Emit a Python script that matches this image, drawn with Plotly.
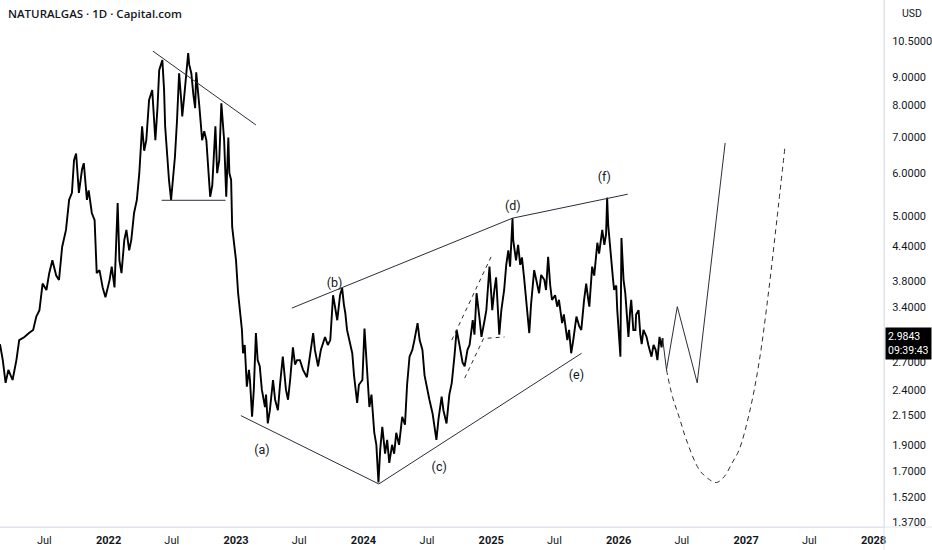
import plotly.graph_objects as go

# NATURALGAS daily (approx.)
price_dates = [
    "2021-02-24", "2021-03-04", "2021-03-12", "2021-03-20", "2021-04-01", "2021-04-12", "2021-04-20",
    "2021-05-05", "2021-05-18", "2021-05-30", "2021-06-08", "2021-06-17", "2021-06-26", "2021-07-07",
    "2021-07-15", "2021-07-24", "2021-08-04", "2021-08-12", "2021-08-21", "2021-09-01", "2021-09-10",
    "2021-09-18", "2021-09-24", "2021-09-30", "2021-10-08", "2021-10-17", "2021-10-22", "2021-10-31",
    "2021-11-05", "2021-11-14", "2021-11-22", "2021-11-28", "2021-12-06", "2021-12-15", "2021-12-23",
    "2022-01-04", "2022-01-10", "2022-01-18", "2022-01-27", "2022-02-01", "2022-02-07", "2022-02-15",
    "2022-02-21", "2022-03-01", "2022-03-07", "2022-03-15", "2022-03-23", "2022-03-30", "2022-04-07",
    "2022-04-13", "2022-04-19", "2022-04-27", "2022-05-06", "2022-05-15", "2022-05-21", "2022-05-26",
    "2022-06-04", "2022-06-09", "2022-06-12", "2022-06-18", "2022-06-23", "2022-06-29", "2022-07-05",
    "2022-07-10", "2022-07-16", "2022-07-22", "2022-07-28", "2022-07-31", "2022-08-06", "2022-08-11",
    "2022-08-17", "2022-08-20", "2022-08-26", "2022-09-01", "2022-09-06", "2022-09-09", "2022-09-15",
    "2022-09-18", "2022-09-26", "2022-10-02", "2022-10-08", "2022-10-14", "2022-10-19", "2022-10-25",
    "2022-10-28", "2022-11-03", "2022-11-08", "2022-11-14", "2022-11-20", "2022-11-25", "2022-11-28",
    "2022-12-04", "2022-12-10", "2022-12-13", "2022-12-18", "2022-12-21", "2022-12-27",
    "2023-01-01", "2023-01-07", "2023-01-12", "2023-01-18", "2023-01-21", "2023-01-26", "2023-02-01",
    "2023-02-07", "2023-02-10", "2023-02-16", "2023-02-21", "2023-02-27", "2023-03-04", "2023-03-10",
    "2023-03-16", "2023-03-25", "2023-03-28", "2023-04-02", "2023-04-08", "2023-04-17", "2023-04-23",
    "2023-05-01", "2023-05-07", "2023-05-15", "2023-05-24", "2023-05-30", "2023-06-05", "2023-06-13",
    "2023-06-19", "2023-06-25", "2023-07-03", "2023-07-12", "2023-07-23", "2023-07-31", "2023-08-10",
    "2023-08-15", "2023-08-24", "2023-09-01", "2023-09-13", "2023-09-21", "2023-09-28", "2023-10-06",
    "2023-10-12", "2023-10-18", "2023-10-26", "2023-11-01", "2023-11-06", "2023-11-10", "2023-11-15",
    "2023-11-24", "2023-11-30", "2023-12-05", "2023-12-14", "2023-12-19", "2023-12-29",
    "2024-01-04", "2024-01-10", "2024-01-18", "2024-01-24", "2024-02-01", "2024-02-07", "2024-02-13",
    "2024-02-18", "2024-02-24", "2024-03-03", "2024-03-09", "2024-03-15", "2024-03-23", "2024-03-29",
    "2024-04-04", "2024-04-12", "2024-04-21", "2024-04-29", "2024-05-05", "2024-05-12", "2024-05-20",
    "2024-05-26", "2024-06-04", "2024-06-10", "2024-06-18", "2024-06-24", "2024-06-30", "2024-07-08",
    "2024-07-17", "2024-07-22", "2024-07-28", "2024-08-03", "2024-08-12", "2024-08-17", "2024-08-26",
    "2024-09-03", "2024-09-10", "2024-09-18", "2024-09-24", "2024-10-02", "2024-10-11", "2024-10-17",
    "2024-10-25", "2024-10-31", "2024-11-09", "2024-11-14", "2024-11-20", "2024-11-29", "2024-12-04",
    "2024-12-13", "2024-12-18", "2024-12-27",
    "2025-01-04", "2025-01-10", "2025-01-15", "2025-01-24", "2025-01-30", "2025-02-07", "2025-02-13",
    "2025-02-19", "2025-02-24", "2025-03-03", "2025-03-05", "2025-03-13", "2025-03-19", "2025-03-25",
    "2025-03-30", "2025-04-05", "2025-04-14", "2025-04-20", "2025-04-25", "2025-05-04", "2025-05-10",
    "2025-05-18", "2025-05-24", "2025-06-02", "2025-06-07", "2025-06-13", "2025-06-19", "2025-06-24",
    "2025-07-03", "2025-07-09", "2025-07-14", "2025-07-23", "2025-07-28", "2025-08-07", "2025-08-12",
    "2025-08-18", "2025-08-24", "2025-09-02", "2025-09-10", "2025-09-16", "2025-09-24", "2025-09-30",
    "2025-10-06", "2025-10-09", "2025-10-17", "2025-10-23", "2025-11-01", "2025-11-06", "2025-11-15",
    "2025-11-21", "2025-11-26", "2025-11-29", "2025-12-02", "2025-12-11", "2025-12-16", "2025-12-19",
    "2025-12-25", "2025-12-28",
    "2026-01-01", "2026-01-06", "2026-01-09", "2026-01-15", "2026-01-20", "2026-01-29", "2026-02-03",
    "2026-02-06", "2026-02-12", "2026-02-18", "2026-02-20", "2026-02-27", "2026-03-04", "2026-03-08",
    "2026-03-13", "2026-03-22", "2026-03-27", "2026-04-05", "2026-04-11", "2026-04-17", "2026-04-22",
    "2026-04-28", "2026-05-04", "2026-05-07",
]
price_values = [
    2.91, 2.72, 2.47, 2.61, 2.50, 2.72, 2.96,
    3.00, 3.05, 3.09, 3.27, 3.36, 3.76, 3.66,
    3.93, 4.15, 3.89, 3.82, 4.39, 4.72, 5.36,
    5.52, 6.34, 6.52, 5.52, 6.10, 6.26, 5.36,
    5.58, 5.07, 4.92, 3.93, 3.98, 3.70, 3.55,
    3.82, 4.04, 3.70, 5.29, 4.15, 3.93, 4.52,
    4.72, 4.33, 4.52, 5.07, 5.36, 6.00, 7.32,
    6.60, 6.90, 8.18, 8.53, 6.90, 7.90, 9.28,
    9.69, 8.53, 7.32, 6.42, 5.83, 5.36, 5.95,
    6.42, 7.50, 9.16, 8.18, 7.63, 8.35, 9.01,
    9.98, 9.50, 9.16, 8.35, 7.90, 9.20, 8.18,
    7.96, 6.90, 7.17, 6.90, 6.06, 5.43, 5.70,
    6.34, 7.32, 6.00, 6.34, 8.07, 7.17, 6.90,
    5.43, 6.98, 6.00, 5.83, 4.78, 4.39,
    4.15, 3.61, 3.32, 3.09, 2.80, 2.90, 2.43,
    2.61, 2.50, 2.14, 2.40, 3.05, 2.72, 2.65,
    2.40, 2.23, 2.35, 2.08, 2.20, 2.50, 2.30,
    2.20, 2.45, 2.76, 2.40, 2.30, 2.50, 2.87,
    2.67, 2.72, 2.72, 2.61, 2.53, 2.78, 3.05,
    2.84, 2.65, 2.84, 3.00, 2.90, 2.96, 3.58,
    3.36, 3.22, 3.58, 3.69, 3.44, 3.32, 3.09,
    2.90, 2.80, 2.55, 2.27, 2.45, 2.50,
    3.11, 2.67, 2.23, 2.35, 2.00, 1.90, 1.62,
    1.86, 2.05, 1.83, 1.94, 1.76, 1.90, 1.83,
    2.00, 1.90, 2.14, 2.07, 2.45, 2.76, 2.84,
    2.96, 3.18, 2.96, 2.84, 2.55, 2.43, 2.30,
    2.17, 2.07, 1.94, 2.12, 2.33, 2.20, 2.08,
    2.35, 2.47, 2.78, 3.09, 2.90, 2.69, 2.65,
    2.84, 2.90, 3.22, 3.03, 3.61, 3.22, 3.00,
    3.22, 3.36, 4.04,
    3.36, 3.66, 3.86, 3.03, 3.36, 3.66, 4.07,
    4.33, 4.04, 4.96, 4.52, 4.15, 4.43, 4.07,
    4.20, 3.86, 3.36, 3.05, 3.44, 3.98, 3.82,
    3.61, 3.90, 3.82, 3.66, 4.21, 3.73, 3.51,
    3.58, 3.41, 3.51, 3.18, 3.30, 2.96, 3.09,
    2.80, 2.96, 3.27, 3.14, 3.09, 3.51, 3.76,
    3.51, 3.41, 4.04, 3.89, 4.47, 4.27, 4.72,
    4.43, 4.64, 5.41, 4.82, 4.04, 3.82, 3.66,
    3.73, 3.36,
    3.09, 2.76, 4.56, 3.82, 3.61, 3.00, 3.36,
    3.51, 3.09, 3.09, 3.30, 3.36, 3.03, 2.91,
    3.09, 3.00, 2.90, 2.76, 2.90, 2.84, 2.72,
    3.00, 2.87, 2.9843,
]
last_price = 2.9843
countdown = "09:39:43"

# drawn lines
top_line_x = ["2022-05-08", "2023-02-27"]
top_line_y = [10.06, 7.36]
neck_x = ["2022-06-02", "2022-12-02"]
neck_y = [5.35, 5.35]
upper_x = ["2023-06-10", "2025-03-03", "2026-01-27"]
upper_y = [3.39, 4.96, 5.49]
lower_x = ["2023-01-15", "2024-02-14", "2025-09-17"]
lower_y = [2.15, 1.61, 2.80]
chan_up_x = ["2024-09-10", "2025-01-02"]
chan_up_y = [2.96, 4.23]
chan_lo_x = ["2024-10-17", "2024-12-10", "2025-02-08"]
chan_lo_y = [2.52, 2.98, 3.00]
path_a_x = ["2026-05-07", "2026-05-18", "2026-06-18", "2026-08-14", "2026-11-02"]
path_a_y = [2.98, 2.61, 3.41, 2.47, 6.82]
path_b_x = ["2026-05-18", "2026-06-04", "2026-06-24", "2026-07-14", "2026-08-20", "2026-09-18",
            "2026-10-08", "2026-10-30", "2026-11-22", "2026-12-12", "2027-01-10", "2027-02-07",
            "2027-03-07", "2027-03-30", "2027-04-22"]
path_b_y = [2.61, 2.33, 2.13, 1.94, 1.71, 1.64, 1.62, 1.66, 1.76, 1.86, 2.17, 2.69, 3.66, 4.92, 6.68]

wave_labels = ["(a)", "(b)", "(c)", "(d)", "(e)", "(f)"]
wave_x = ["2023-03-16", "2023-10-10", "2024-08-05", "2025-03-04", "2025-09-02", "2025-11-21"]
wave_y = [1.85, 3.76, 1.72, 5.20, 2.54, 5.88]

y_ticks = [10.5, 9, 8, 7, 6, 5, 4.4, 3.8, 3.4, 2.7, 2.4, 2.15, 1.9, 1.7, 1.52, 1.37]
x_ticks = ["2021-07-01", "2022-01-01", "2022-07-01", "2023-01-01", "2023-07-01", "2024-01-01",
           "2024-07-01", "2025-01-01", "2025-07-01", "2026-01-01", "2026-07-01", "2027-01-01",
           "2027-07-01", "2028-01-01"]
x_text = ["Jul", "<b>2022</b>", "Jul", "<b>2023</b>", "Jul", "<b>2024</b>", "Jul", "<b>2025</b>",
          "Jul", "<b>2026</b>", "Jul", "<b>2027</b>", "Jul", "<b>2028</b>"]

ink = "#131722"
pen = "#2a2e39"

fig = go.Figure()
fig.add_trace(go.Scatter(x=price_dates, y=price_values, mode="lines",
                         line=dict(color="black", width=1.9)))
for xs, ys in [(top_line_x, top_line_y), (neck_x, neck_y), (upper_x, upper_y),
               (lower_x, lower_y), (path_a_x, path_a_y)]:
    fig.add_trace(go.Scatter(x=xs, y=ys, mode="lines", line=dict(color=pen, width=1)))
for xs, ys in [(chan_up_x, chan_up_y), (chan_lo_x, chan_lo_y)]:
    fig.add_trace(go.Scatter(x=xs, y=ys, mode="lines",
                             line=dict(color=pen, width=1, dash="4px,4px")))
fig.add_trace(go.Scatter(x=path_b_x, y=path_b_y, mode="lines",
                         line=dict(color=pen, width=1, dash="5px,4px", shape="spline")))
fig.add_trace(go.Scatter(x=wave_x, y=wave_y, mode="text", text=wave_labels,
                         textfont=dict(size=12.5, color=ink, family="Roboto")))

fig.update_layout(
    width=932, height=550,
    margin=dict(l=0, r=48, t=0, b=23),
    paper_bgcolor="white", plot_bgcolor="white",
    showlegend=False,
    font=dict(family="Roboto", size=11, color=ink),
    xaxis=dict(type="date", range=["2021-02-24", "2028-01-31"], showgrid=False, zeroline=False,
               tickvals=x_ticks, ticktext=x_text, ticks="outside", ticklen=3,
               tickcolor="rgba(0,0,0,0)", showline=True, linecolor="#e0e3eb",
               tickfont=dict(size=11, color=ink)),
    yaxis=dict(type="log", side="right", range=[0.1277, 1.0966], showgrid=False, zeroline=False,
               tickvals=y_ticks, tickformat=".4f", ticks="outside", ticklen=5,
               tickcolor="rgba(0,0,0,0)", showline=True, linecolor="#e0e3eb",
               tickfont=dict(size=11, color=ink)),
)

fig.add_shape(type="line", xref="paper", yref="paper", x0=1, x1=1, y0=-0.05, y1=1,
              line=dict(color="#e0e3eb", width=1))
fig.add_shape(type="line", xref="paper", yref="paper", x0=0, x1=1.06, y0=0, y1=0,
              line=dict(color="#e0e3eb", width=1))

fig.add_annotation(xref="paper", yref="paper", x=0.007, y=0.975, xanchor="left", yanchor="middle",
                   text="NATURALGAS · 1D · Capital.com", showarrow=False,
                   font=dict(size=11.5, color=ink, family="Open Sans", weight=600))
fig.add_annotation(xref="paper", yref="paper", x=1.018, y=0.975, xanchor="left", yanchor="middle",
                   text="USD", showarrow=False, font=dict(size=10.5, color=ink))
fig.add_annotation(xref="paper", yref="y", x=1.001, y=0.47488, xanchor="left", yanchor="middle",
                   yshift=-5, text=f"{last_price:.4f}<br>{countdown}", showarrow=False,
                   align="left", bgcolor="black", borderpad=2,
                   font=dict(size=10.5, color="white", family="Roboto"))

fig.write_html("out.html", config={"displayModeBar": False},
               post_script="document.body.style.margin='0';")
